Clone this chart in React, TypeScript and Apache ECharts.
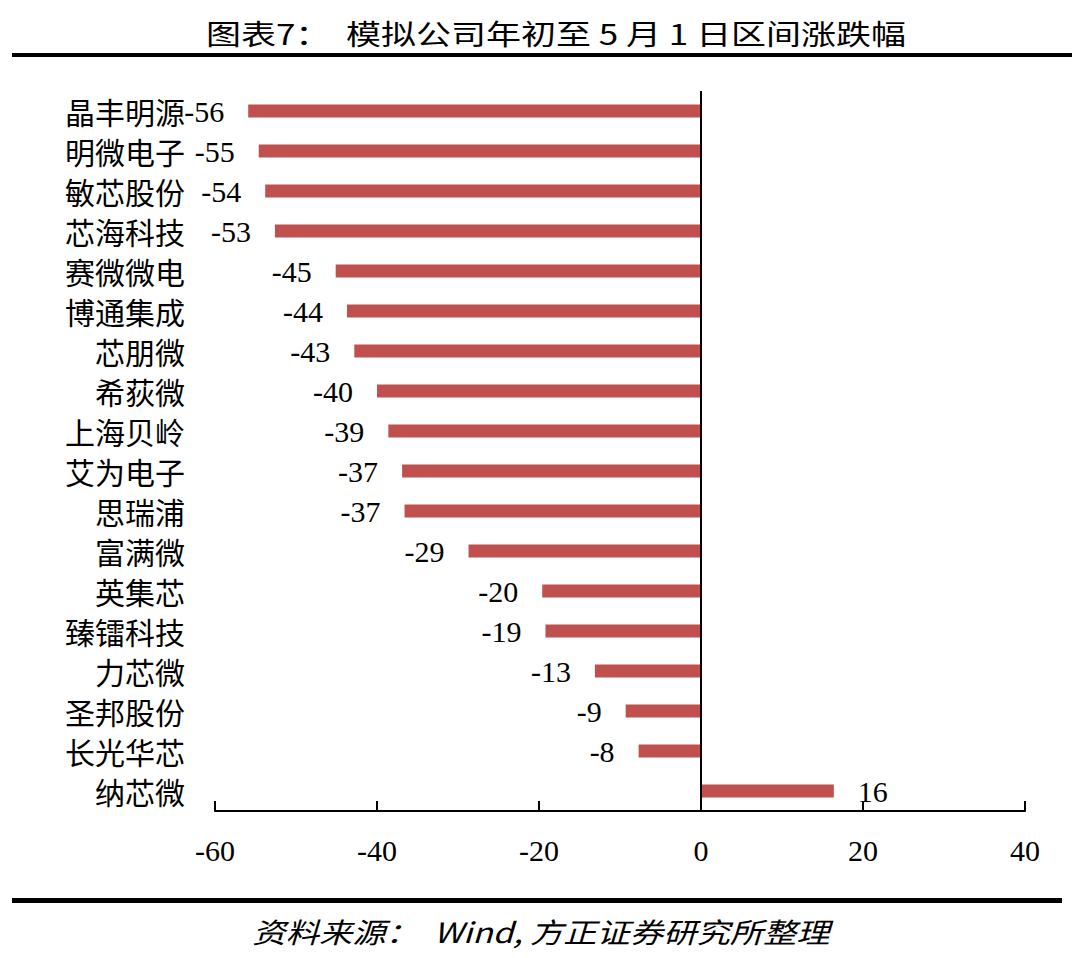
import React, { useEffect, useRef } from "react";
import * as echarts from "echarts";

const titleText = "图表7：  模拟公司年初至 5 月 1 日区间涨跌幅";
const footerText = "资料来源：  Wind, 方正证券研究所整理";

const categories = [
  "晶丰明源", "明微电子", "敏芯股份", "芯海科技", "赛微微电", "博通集成",
  "芯朋微", "希荻微", "上海贝岭", "艾为电子", "思瑞浦", "富满微",
  "英集芯", "臻镭科技", "力芯微", "圣邦股份", "长光华芯", "纳芯微",
];

const values = [
  -55.9, -54.6, -53.8, -52.6, -45.1, -43.7,
  -42.8, -40.0, -38.6, -36.9, -36.6, -28.7,
  -19.6, -19.2, -13.1, -9.3, -7.7, 16.4,
];

const xMin = -60;
const xMax = 40;
const xInterval = 20;

const serif = "'Liberation Serif', 'Times New Roman', serif";
const cjk = "'Noto Sans CJK SC', sans-serif";

export default function App() {
  const ref = useRef<HTMLDivElement>(null);

  useEffect(() => {
    if (!ref.current) return;
    const chart = echarts.init(ref.current, undefined, { renderer: "svg" });
    const option = {
      animation: false,
      backgroundColor: "#ffffff",
      grid: { left: 215, right: 47, top: 91, bottom: 147, containLabel: false },
      xAxis: {
        type: "value",
        min: xMin,
        max: xMax,
        interval: xInterval,
        splitLine: { show: false },
        axisLine: { show: true, onZero: false, lineStyle: { color: "#000", width: 2 } },
        axisTick: { show: true, inside: true, length: 10, lineStyle: { color: "#000", width: 2 } },
        axisLabel: {
          color: "#000",
          fontSize: 30,
          fontFamily: serif,
          margin: 24,
        },
      },
      yAxis: {
        type: "category",
        data: categories,
        inverse: true,
        axisLine: { show: false, onZero: false },
        axisTick: { show: false },
        splitLine: { show: false },
        axisLabel: {
          color: "#000",
          fontSize: 30,
          fontFamily: cjk,
          margin: 30,
        },
      },
      series: [
        {
          type: "bar",
          data: values.map((v) => ({
            value: v,
            label: { position: v < 0 ? "left" : "right" },
          })),
          barWidth: 13,
          itemStyle: { color: "#C0504D" },
          label: {
            show: true,
            distance: 24,
            color: "#000",
            fontSize: 30,
            fontFamily: serif,
            formatter: (p: any) => String(Math.round(p.value)),
          },
          markLine: {
            silent: true,
            symbol: "none",
            label: { show: false },
            lineStyle: { color: "#000", width: 2, type: "solid" },
            data: [{ xAxis: 0 }],
          },
        },
      ],
      graphic: [
        {
          type: "text",
          x: 556,
          y: 33,
          scaleX: 1.25,
          style: {
            text: titleText,
            textAlign: "center",
            textVerticalAlign: "middle",
            fill: "#000",
            font: `28px ${cjk}`,
          },
        },
        {
          type: "rect",
          shape: { x: 12, y: 53, width: 1060, height: 4 },
          style: { fill: "#000" },
        },
        {
          type: "rect",
          shape: { x: 12, y: 898, width: 1050, height: 5 },
          style: { fill: "#000" },
        },
        {
          type: "text",
          x: 541,
          y: 931,
          scaleX: 1.19,
          style: {
            text: footerText,
            textAlign: "center",
            textVerticalAlign: "middle",
            fill: "#000",
            font: `italic 28px ${cjk}`,
          },
        },
      ],
    };
    chart.setOption(option as any);
    return () => chart.dispose();
  }, []);

  return (
    <div
      ref={ref}
      style={{ position: "fixed", left: 0, top: 0, width: 1072, height: 958 }}
    />
  );
}
